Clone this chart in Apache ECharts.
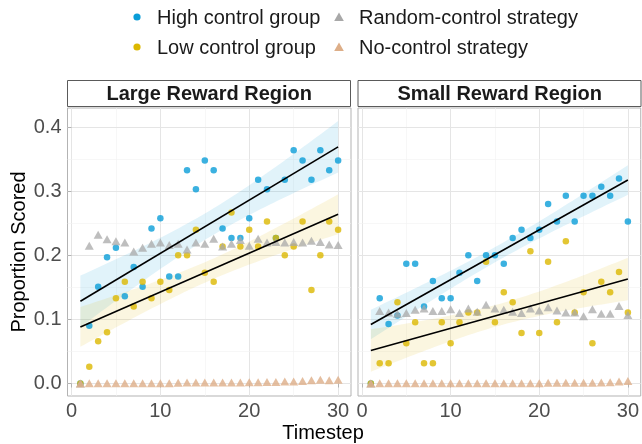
<!DOCTYPE html>
<html><head><meta charset="utf-8">
<script src="https://cdn.jsdelivr.net/npm/echarts@6/dist/echarts.min.js"></script>
<style>html,body{margin:0;padding:0;background:#fff}#c{width:642px;height:444px}</style>
</head><body><div id="c"></div>
<script>
// ---------------- data ----------------
const timesteps = [1,2,3,4,5,6,7,8,9,10,11,12,13,14,15,16,17,18,19,20,21,22,23,24,25,26,27,28,29,30];
const panels = ['Large Reward Region', 'Small Reward Region'];
const seriesNames = ['High control group', 'Low control group', 'Random-control strategy', 'No-control strategy'];

const largeHigh = [0,0.090,0.151,0.197,0.212,0.136,0.182,0.151,0.242,0.258,0.167,0.167,0.333,0.303,0.348,0.333,0.242,0.227,0.227,0.258,0.318,0.303,0.227,0.318,0.364,0.348,0.318,0.364,0.333,0.348];
const largeLow = [0,0.026,0.066,0.080,0.133,0.159,0.120,0.159,0.133,0.159,0.146,0.200,0.200,0.240,0.173,0.159,0.214,0.267,0.214,0.240,0.214,0.253,0.227,0.200,0.214,0.253,0.146,0.200,0.253,0.240];
const largeRandom = [0,0.215,0.232,0.225,0.222,0.220,0.206,0.212,0.218,0.220,0.216,0.218,0.209,0.220,0.218,0.226,0.214,0.218,0.224,0.215,0.226,0.220,0.221,0.220,0.221,0.220,0.223,0.221,0.217,0.216];
const largeNone = [0,0.0005,0.0005,0.0005,0.0005,0.0005,0.0005,0.0005,0.0005,0.0005,0.0005,0.001,0.0015,0.0015,0.0015,0.0015,0.0015,0.0015,0.0015,0.002,0.002,0.0025,0.0025,0.003,0.003,0.004,0.005,0.006,0.005,0.006];

const smallHigh = [0,0.133,0.093,0.106,0.187,0.187,0.120,0.160,0.133,0.133,0.173,0.200,0.160,0.200,0.200,0.187,0.227,0.240,0.227,0.240,0.280,0.253,0.293,0.253,0.293,0.293,0.307,0.293,0.320,0.253];
const smallLow = [0,0.0315,0.0315,0.127,0.063,0.0956,0.0315,0.0315,0.0956,0.063,0.0956,0.111,0.111,0.190,0.0956,0.1425,0.127,0.079,0.2065,0.079,0.190,0.0956,0.222,0.111,0.1425,0.063,0.159,0.1425,0.174,0.111];
const smallRandom = [0,0.113,0.111,0.109,0.110,0.115,0.117,0.113,0.113,0.116,0.110,0.117,0.112,0.123,0.117,0.115,0.112,0.110,0.117,0.114,0.119,0.114,0.111,0.111,0.105,0.116,0.109,0.109,0.121,0.107];
const smallNone = [0,0.0005,0.0005,0.0005,0.0005,0.0005,0.0005,0.0005,0.0005,0.0005,0.0005,0.0005,0.0005,0.0005,0.0005,0.0005,0.0005,0.0005,0.0005,0.0005,0.001,0.001,0.001,0.001,0.001,0.001,0.0015,0.002,0.003,0.004];

const xTicks = [0,10,20,30];
const xMinor = [5,15,25];
const yTicks = [0,0.1,0.2,0.3,0.4];
const yTickLabels = ['0.0','0.1','0.2','0.3','0.4'];
const yMinor = [0.05,0.15,0.25,0.35];

// ---------------- styles ----------------
const C_HIGH = '#0A9DD8', C_LOW = '#DCB800', C_RAND = '#A8A8A8', C_NONE = '#DDAE88';
const FONT = '"Liberation Sans", Arial, Helvetica, sans-serif';
const grids = [
  {left: 67.5, top: 108, width: 283.5, height: 288},
  {left: 358, top: 108, width: 283.5, height: 288}
];

// linear model fit (as geom_smooth(method = "lm")) with 95% CI
function fitLm(xs, ys) {
  const n = xs.length;
  const mx = xs.reduce((a,b)=>a+b,0)/n, my = ys.reduce((a,b)=>a+b,0)/n;
  let sxx = 0, sxy = 0;
  for (let i=0;i<n;i++){ sxx += (xs[i]-mx)**2; sxy += (xs[i]-mx)*(ys[i]-my); }
  const b = sxy/sxx, a = my - b*mx;
  let sse = 0;
  for (let i=0;i<n;i++){ sse += (ys[i]-a-b*xs[i])**2; }
  const s = Math.sqrt(sse/(n-2)), t = 2.048;
  const x0 = Math.min(...xs), x1 = Math.max(...xs);
  const gx = [], fy = [], up = [], lo = [];
  for (let k=0;k<=60;k++){
    const x = x0 + (x1-x0)*k/60;
    const y = a + b*x;
    const hw = t*s*Math.sqrt(1/n + (x-mx)**2/sxx);
    gx.push(x); fy.push(y); up.push(y+hw); lo.push(y-hw);
  }
  return {gx, fy, up, lo};
}

const panelData = [
  {high: largeHigh, low: largeLow, rand: largeRandom, none: largeNone},
  {high: smallHigh, low: smallLow, rand: smallRandom, none: smallNone}
];

const xAxes = [], yAxes = [], series = [];
panelData.forEach((pd, gi) => {
  xAxes.push({
    type: 'value', gridIndex: gi, min: -0.45, max: 31.45,
    axisLine: {show: false},
    axisTick: {show: true, length: 4, lineStyle: {color: '#b3b3b3'}, customValues: xTicks},
    axisLabel: {show: true, customValues: xTicks, color: '#4d4d4d', fontSize: 20, fontFamily: FONT, margin: 5,
      formatter: v => String(v)},
    splitLine: {show: false}
  });
  yAxes.push({
    type: 'value', gridIndex: gi, min: -0.0195, max: 0.43,
    axisLine: {show: false},
    axisTick: {show: gi === 0, length: 4, lineStyle: {color: '#b3b3b3'}, customValues: yTicks},
    axisLabel: {show: gi === 0, customValues: yTicks, color: '#4d4d4d', fontSize: 20, fontFamily: FONT, margin: 6,
      formatter: v => yTickLabels[yTicks.findIndex(t => Math.abs(t - v) < 1e-9)] ?? v.toFixed(1)},
    splitLine: {show: false}
  });

  // grid lines
  const ml = [];
  const major = {color: '#e5e5e5', width: 1, type: 'solid'};
  const minor = {color: '#f2f2f2', width: 0.6, type: 'solid'};
  xTicks.forEach(v => ml.push({xAxis: v, lineStyle: major}));
  xMinor.forEach(v => ml.push({xAxis: v, lineStyle: minor}));
  yTicks.forEach(v => ml.push({yAxis: v, lineStyle: major}));
  yMinor.forEach(v => ml.push({yAxis: v, lineStyle: minor}));
  series.push({
    type: 'line', xAxisIndex: gi, yAxisIndex: gi, data: [], silent: true, z: 0,
    markLine: {silent: true, z: 0, symbol: ['none','none'], label: {show: false}, animation: false,
      lineStyle: {type: 'solid'}, emphasis: {disabled: true}, data: ml}
  });

  // ribbons + fit lines
  [[pd.high, C_HIGH], [pd.low, C_LOW]].forEach(([ys, col]) => {
    const f = fitLm(timesteps, ys);
    series.push({
      type: 'custom', xAxisIndex: gi, yAxisIndex: gi, silent: true, z: 1, data: [[0,0]],
      renderItem: (params, api) => {
        const pts = [];
        for (let i=0;i<f.gx.length;i++) pts.push(api.coord([f.gx[i], f.up[i]]));
        for (let i=f.gx.length-1;i>=0;i--) pts.push(api.coord([f.gx[i], f.lo[i]]));
        return {type: 'polygon', shape: {points: pts}, style: {fill: col, opacity: 0.12}};
      }
    });
    series.push({
      type: 'line', xAxisIndex: gi, yAxisIndex: gi, silent: true, z: 6, symbol: 'none',
      data: [[f.gx[0], f.fy[0]], [f.gx[f.gx.length-1], f.fy[f.fy.length-1]]],
      lineStyle: {color: '#000', width: 1.6}
    });
  });

  // points
  const pts = (arr) => timesteps.map((t, i) => [t, arr[i]]);
  series.push({name: seriesNames[0], type: 'scatter', xAxisIndex: gi, yAxisIndex: gi, z: 3,
    symbol: 'circle', symbolSize: 6.5, itemStyle: {color: C_HIGH}, data: pts(pd.high)});
  series.push({name: seriesNames[1], type: 'scatter', xAxisIndex: gi, yAxisIndex: gi, z: 3,
    symbol: 'circle', symbolSize: 6.5, itemStyle: {color: C_LOW}, data: pts(pd.low)});
  series.push({name: seriesNames[2], type: 'scatter', xAxisIndex: gi, yAxisIndex: gi, z: 4,
    symbol: 'triangle', symbolSize: [9, 8], itemStyle: {color: C_RAND, opacity: 0.75}, data: pts(pd.rand)});
  series.push({name: seriesNames[3], type: 'scatter', xAxisIndex: gi, yAxisIndex: gi, z: 4,
    symbol: 'triangle', symbolSize: [9, 8], itemStyle: {color: C_NONE, opacity: 0.8}, data: pts(pd.none)});
});

// strips, titles, legend
const graphic = [];
grids.forEach((g, gi) => {
  graphic.push({type: 'rect', shape: {x: g.left, y: 80.5, width: g.width - 0.5, height: 26},
    style: {fill: '#fff', stroke: '#5a5a5a', lineWidth: 1}, z: 10});
  graphic.push({type: 'text', x: g.left + g.width/2, y: 94, z: 11,
    style: {text: panels[gi], font: 'bold 20px ' + FONT, fill: '#1a1a1a', textAlign: 'center', textVerticalAlign: 'middle'}});
});
graphic.push({type: 'text', x: 19, y: 252, rotation: Math.PI/2, z: 11,
  style: {text: 'Proportion Scored', font: '20px ' + FONT, fill: '#000', textAlign: 'center', textVerticalAlign: 'middle'}});
graphic.push({type: 'text', x: 323, y: 433, z: 11,
  style: {text: 'Timestep', font: '20px ' + FONT, fill: '#000', textAlign: 'center', textVerticalAlign: 'middle'}});

const legendItems = [
  {name: seriesNames[0], col: C_HIGH, shape: 'circle', x: 137, y: 17},
  {name: seriesNames[1], col: C_LOW, shape: 'circle', x: 137, y: 47},
  {name: seriesNames[2], col: C_RAND, shape: 'triangle', x: 339, y: 17},
  {name: seriesNames[3], col: C_NONE, shape: 'triangle', x: 339, y: 47}
];
legendItems.forEach(it => {
  if (it.shape === 'circle') {
    graphic.push({type: 'circle', shape: {cx: it.x, cy: it.y, r: 3.6}, style: {fill: it.col}, z: 11});
  } else {
    graphic.push({type: 'polygon', shape: {points: [[it.x-4.8, it.y+4], [it.x+4.8, it.y+4], [it.x, it.y-4.5]]}, style: {fill: it.col}, z: 11});
  }
  graphic.push({type: 'text', x: it.x + 20, y: it.y + 1, z: 11,
    style: {text: it.name, font: '20px ' + FONT, fill: '#1a1a1a', textAlign: 'left', textVerticalAlign: 'middle'}});
});

const chart = echarts.init(document.getElementById('c'), null, {renderer: 'canvas'});
chart.setOption({
  animation: false,
  backgroundColor: '#fff',
  grid: grids.map(g => Object.assign({show: true, borderColor: '#b3b3b3', borderWidth: 1, backgroundColor: 'transparent'}, g)),
  xAxis: xAxes,
  yAxis: yAxes,
  series: series,
  graphic: graphic
});
</script></body></html>
